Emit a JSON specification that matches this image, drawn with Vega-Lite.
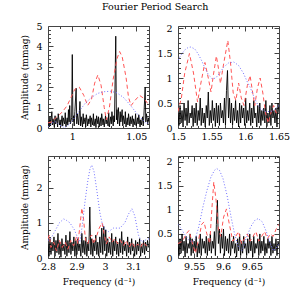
{
"$schema": "https://vega.github.io/schema/vega-lite/v6.json",
"padding": {"left": 20, "top": 2, "right": 5, "bottom": 5},
"title": {"text": "Fourier Period Search", "font": "DejaVu Serif", "fontSize": 9.5, "fontWeight": "normal", "anchor": "middle", "offset": 9, "color": "#000"},
"config": {
  "view": {"stroke": "#444", "strokeWidth": 1},
  "axis": {"grid": false, "domain": false, "labelFont": "DejaVu Serif", "labelFontSize": 9.5, "labelColor": "#000", "titleFont": "DejaVu Serif", "titleFontSize": 9, "titleFontWeight": "normal", "titleColor": "#000", "tickColor": "#444", "labelFlush": false, "labelOverlap": false, "labelBound": false, "format": "~g"}
},
"datasets": {
"tlk": [{"f":0.981,"a":0.35},{"f":0.982,"a":0.05},{"f":0.9825,"a":0.55},{"f":0.983,"a":0.1},{"f":0.984,"a":0.8},{"f":0.9845,"a":0.15},{"f":0.985,"a":0.45},{"f":0.986,"a":0.02},{"f":0.9865,"a":0.6},{"f":0.987,"a":0.2},{"f":0.988,"a":0.5},{"f":0.9885,"a":0.05},{"f":0.989,"a":0.7},{"f":0.99,"a":0.15},{"f":0.9905,"a":0.4},{"f":0.991,"a":0.08},{"f":0.992,"a":0.6},{"f":0.9925,"a":0.1},{"f":0.993,"a":0.5},{"f":0.994,"a":0.2},{"f":0.9945,"a":0.75},{"f":0.995,"a":0.05},{"f":0.996,"a":0.5},{"f":0.9965,"a":0.15},{"f":0.997,"a":0.9},{"f":0.9975,"a":0.3},{"f":0.998,"a":1.1},{"f":0.9985,"a":0.2},{"f":0.9995,"a":0.5},{"f":1.0,"a":3.6},{"f":1.0005,"a":0.3},{"f":1.001,"a":0.6},{"f":1.0015,"a":0.1},{"f":1.002,"a":0.8},{"f":1.003,"a":1.95},{"f":1.0035,"a":0.2},{"f":1.004,"a":0.7},{"f":1.005,"a":0.15},{"f":1.006,"a":1.3},{"f":1.0065,"a":0.1},{"f":1.007,"a":0.55},{"f":1.008,"a":0.05},{"f":1.0085,"a":0.7},{"f":1.009,"a":0.2},{"f":1.01,"a":0.5},{"f":1.0105,"a":0.05},{"f":1.011,"a":0.65},{"f":1.012,"a":0.1},{"f":1.0125,"a":0.45},{"f":1.013,"a":0.2},{"f":1.014,"a":0.6},{"f":1.0145,"a":0.05},{"f":1.015,"a":0.5},{"f":1.016,"a":0.15},{"f":1.0165,"a":0.7},{"f":1.017,"a":0.1},{"f":1.018,"a":0.45},{"f":1.0185,"a":0.02},{"f":1.019,"a":0.6},{"f":1.02,"a":0.2},{"f":1.0205,"a":0.55},{"f":1.021,"a":0.05},{"f":1.022,"a":0.5},{"f":1.0225,"a":0.1},{"f":1.023,"a":0.7},{"f":1.024,"a":0.15},{"f":1.0245,"a":0.45},{"f":1.025,"a":0.05},{"f":1.026,"a":0.6},{"f":1.0265,"a":0.2},{"f":1.027,"a":0.5},{"f":1.028,"a":0.1},{"f":1.0285,"a":0.75},{"f":1.029,"a":0.05},{"f":1.03,"a":0.55},{"f":1.0305,"a":0.2},{"f":1.031,"a":0.8},{"f":1.032,"a":0.1},{"f":1.0325,"a":0.6},{"f":1.033,"a":0.3},{"f":1.034,"a":4.5},{"f":1.0345,"a":0.4},{"f":1.035,"a":0.9},{"f":1.0355,"a":0.2},{"f":1.036,"a":1.0},{"f":1.037,"a":0.1},{"f":1.0375,"a":0.8},{"f":1.038,"a":0.3},{"f":1.039,"a":0.9},{"f":1.0395,"a":0.1},{"f":1.04,"a":0.6},{"f":1.041,"a":0.2},{"f":1.0415,"a":0.8},{"f":1.042,"a":0.05},{"f":1.043,"a":0.5},{"f":1.0435,"a":0.15},{"f":1.044,"a":0.7},{"f":1.045,"a":0.1},{"f":1.0455,"a":0.55},{"f":1.046,"a":0.2},{"f":1.047,"a":0.6},{"f":1.0475,"a":0.05},{"f":1.048,"a":0.45},{"f":1.049,"a":0.15},{"f":1.0495,"a":0.7},{"f":1.05,"a":0.1},{"f":1.051,"a":0.5},{"f":1.0515,"a":0.2},{"f":1.052,"a":0.65},{"f":1.053,"a":0.05},{"f":1.0535,"a":0.4},{"f":1.054,"a":0.15},{"f":1.055,"a":0.55},{"f":1.0555,"a":0.1},{"f":1.056,"a":0.6},{"f":1.057,"a":2.0},{"f":1.0575,"a":0.3},{"f":1.058,"a":0.7},{"f":1.059,"a":0.2},{"f":1.0595,"a":0.5},{"f":1.06,"a":0.3}],
"tlr": [{"f":0.981,"a":0.25},{"f":0.984,"a":0.3},{"f":0.987,"a":0.5},{"f":0.99,"a":0.65},{"f":0.993,"a":0.85},{"f":0.996,"a":1.1},{"f":0.999,"a":1.5},{"f":1.002,"a":1.9},{"f":1.0055,"a":2.0},{"f":1.009,"a":1.6},{"f":1.012,"a":1.1},{"f":1.015,"a":1.4},{"f":1.0175,"a":2.2},{"f":1.02,"a":2.6},{"f":1.0225,"a":2.1},{"f":1.025,"a":1.0},{"f":1.0266,"a":0.4},{"f":1.029,"a":1.0},{"f":1.032,"a":2.4},{"f":1.035,"a":3.4},{"f":1.037,"a":3.75},{"f":1.039,"a":3.5},{"f":1.042,"a":2.5},{"f":1.044,"a":1.5},{"f":1.046,"a":1.1},{"f":1.049,"a":1.35},{"f":1.0526,"a":1.6},{"f":1.056,"a":1.45},{"f":1.059,"a":1.2},{"f":1.06,"a":1.15}],
"tlb": [{"f":0.981,"a":0.05},{"f":0.984,"a":0.25},{"f":0.987,"a":0.3},{"f":0.99,"a":0.15},{"f":0.9937,"a":0.02},{"f":0.997,"a":0.15},{"f":1.0,"a":0.35},{"f":1.005,"a":0.8},{"f":1.01,"a":1.2},{"f":1.015,"a":1.5},{"f":1.02,"a":1.7},{"f":1.025,"a":1.78},{"f":1.03,"a":1.8},{"f":1.035,"a":1.72},{"f":1.04,"a":1.5},{"f":1.045,"a":1.15},{"f":1.05,"a":0.75},{"f":1.055,"a":0.4},{"f":1.058,"a":0.2},{"f":1.06,"a":0.3}],
"trk": [{"f":1.5,"a":0.3},{"f":1.5015,"a":0.05},{"f":1.503,"a":0.45},{"f":1.5045,"a":0.1},{"f":1.506,"a":0.35},{"f":1.5075,"a":0.02},{"f":1.509,"a":0.5},{"f":1.5105,"a":0.15},{"f":1.512,"a":0.4},{"f":1.5135,"a":0.05},{"f":1.515,"a":0.55},{"f":1.5165,"a":0.1},{"f":1.518,"a":0.3},{"f":1.5195,"a":0.2},{"f":1.521,"a":0.45},{"f":1.5225,"a":0.03},{"f":1.524,"a":0.4},{"f":1.5255,"a":0.1},{"f":1.527,"a":0.5},{"f":1.5285,"a":0.05},{"f":1.53,"a":0.35},{"f":1.5315,"a":0.15},{"f":1.533,"a":0.6},{"f":1.5345,"a":0.05},{"f":1.536,"a":0.4},{"f":1.5375,"a":0.1},{"f":1.539,"a":0.3},{"f":1.5405,"a":0.02},{"f":1.542,"a":0.45},{"f":1.5435,"a":0.2},{"f":1.545,"a":0.72},{"f":1.5465,"a":0.05},{"f":1.548,"a":0.35},{"f":1.5495,"a":0.1},{"f":1.551,"a":0.55},{"f":1.5525,"a":0.15},{"f":1.554,"a":0.4},{"f":1.5555,"a":0.03},{"f":1.557,"a":0.5},{"f":1.5585,"a":0.1},{"f":1.56,"a":0.45},{"f":1.5615,"a":0.05},{"f":1.563,"a":0.5},{"f":1.5645,"a":0.2},{"f":1.566,"a":0.35},{"f":1.5675,"a":0.1},{"f":1.569,"a":0.6},{"f":1.5705,"a":0.05},{"f":1.572,"a":0.75},{"f":1.5735,"a":1.15},{"f":1.575,"a":0.2},{"f":1.5765,"a":0.6},{"f":1.578,"a":0.1},{"f":1.5795,"a":0.5},{"f":1.581,"a":0.05},{"f":1.5825,"a":0.4},{"f":1.584,"a":0.15},{"f":1.5855,"a":0.55},{"f":1.587,"a":0.1},{"f":1.5885,"a":0.35},{"f":1.59,"a":0.02},{"f":1.5915,"a":0.5},{"f":1.593,"a":0.1},{"f":1.5945,"a":0.45},{"f":1.596,"a":0.2},{"f":1.5975,"a":0.4},{"f":1.599,"a":0.05},{"f":1.6005,"a":0.6},{"f":1.602,"a":0.1},{"f":1.6035,"a":0.35},{"f":1.605,"a":0.15},{"f":1.6065,"a":0.5},{"f":1.608,"a":0.05},{"f":1.6095,"a":0.4},{"f":1.611,"a":0.1},{"f":1.6125,"a":0.55},{"f":1.614,"a":0.2},{"f":1.6155,"a":0.3},{"f":1.617,"a":0.02},{"f":1.6185,"a":0.45},{"f":1.62,"a":0.1},{"f":1.6215,"a":0.5},{"f":1.623,"a":0.05},{"f":1.6245,"a":0.35},{"f":1.626,"a":0.15},{"f":1.6275,"a":0.4},{"f":1.629,"a":0.1},{"f":1.6305,"a":0.55},{"f":1.632,"a":0.03},{"f":1.6335,"a":0.3},{"f":1.635,"a":0.1},{"f":1.6365,"a":0.45},{"f":1.638,"a":0.05},{"f":1.6395,"a":0.5},{"f":1.641,"a":0.2},{"f":1.6425,"a":0.35},{"f":1.644,"a":0.1},{"f":1.6455,"a":0.4},{"f":1.647,"a":0.02},{"f":1.6485,"a":0.5},{"f":1.65,"a":0.3}],
"trr": [{"f":1.5,"a":0.33},{"f":1.505,"a":0.6},{"f":1.51,"a":1.1},{"f":1.517,"a":1.49},{"f":1.523,"a":1.1},{"f":1.529,"a":0.52},{"f":1.534,"a":0.9},{"f":1.54,"a":1.31},{"f":1.545,"a":1.0},{"f":1.549,"a":0.72},{"f":1.553,"a":1.1},{"f":1.557,"a":1.44},{"f":1.56,"a":1.2},{"f":1.563,"a":0.89},{"f":1.568,"a":1.3},{"f":1.574,"a":1.75},{"f":1.578,"a":1.3},{"f":1.582,"a":0.7},{"f":1.586,"a":0.55},{"f":1.59,"a":0.9},{"f":1.594,"a":0.6},{"f":1.598,"a":0.45},{"f":1.603,"a":0.85},{"f":1.607,"a":1.05},{"f":1.611,"a":0.7},{"f":1.614,"a":0.45},{"f":1.618,"a":0.8},{"f":1.622,"a":1.0},{"f":1.626,"a":0.7},{"f":1.63,"a":0.3},{"f":1.634,"a":0.1},{"f":1.638,"a":0.3},{"f":1.642,"a":0.45},{"f":1.646,"a":0.3},{"f":1.65,"a":0.35}],
"trb": [{"f":1.5,"a":1.36},{"f":1.505,"a":1.47},{"f":1.51,"a":1.56},{"f":1.515,"a":1.61},{"f":1.519,"a":1.62},{"f":1.525,"a":1.58},{"f":1.53,"a":1.48},{"f":1.535,"a":1.35},{"f":1.54,"a":1.2},{"f":1.545,"a":1.07},{"f":1.551,"a":0.98},{"f":1.556,"a":1.0},{"f":1.562,"a":1.1},{"f":1.568,"a":1.22},{"f":1.575,"a":1.3},{"f":1.583,"a":1.32},{"f":1.59,"a":1.25},{"f":1.597,"a":1.1},{"f":1.603,"a":0.92},{"f":1.607,"a":0.82},{"f":1.612,"a":0.65},{"f":1.617,"a":0.5},{"f":1.622,"a":0.39},{"f":1.63,"a":0.33},{"f":1.636,"a":0.33},{"f":1.641,"a":0.34},{"f":1.646,"a":0.4},{"f":1.65,"a":0.45}],
"blk": [{"f":2.8,"a":0.4},{"f":2.8035,"a":0.05},{"f":2.807,"a":0.55},{"f":2.8105,"a":0.1},{"f":2.814,"a":0.45},{"f":2.8175,"a":0.2},{"f":2.821,"a":0.6},{"f":2.8245,"a":0.05},{"f":2.828,"a":0.5},{"f":2.8315,"a":0.15},{"f":2.835,"a":0.7},{"f":2.8385,"a":0.1},{"f":2.842,"a":0.45},{"f":2.8455,"a":0.02},{"f":2.849,"a":0.55},{"f":2.8525,"a":0.2},{"f":2.856,"a":0.4},{"f":2.8595,"a":0.1},{"f":2.863,"a":0.65},{"f":2.8665,"a":0.05},{"f":2.87,"a":0.5},{"f":2.8735,"a":0.15},{"f":2.877,"a":0.75},{"f":2.8805,"a":0.1},{"f":2.884,"a":0.45},{"f":2.8875,"a":0.2},{"f":2.891,"a":0.6},{"f":2.8945,"a":0.05},{"f":2.898,"a":0.5},{"f":2.9015,"a":0.1},{"f":2.905,"a":0.55},{"f":2.9085,"a":0.2},{"f":2.912,"a":0.4},{"f":2.9155,"a":0.05},{"f":2.919,"a":0.7},{"f":2.9225,"a":0.15},{"f":2.926,"a":0.5},{"f":2.9295,"a":0.1},{"f":2.933,"a":0.6},{"f":2.9365,"a":0.05},{"f":2.94,"a":0.45},{"f":2.9435,"a":0.2},{"f":2.947,"a":1.45},{"f":2.9505,"a":0.1},{"f":2.954,"a":0.55},{"f":2.9575,"a":0.05},{"f":2.961,"a":0.5},{"f":2.9645,"a":0.2},{"f":2.968,"a":0.65},{"f":2.9715,"a":0.1},{"f":2.975,"a":0.45},{"f":2.9785,"a":0.05},{"f":2.982,"a":0.6},{"f":2.9855,"a":0.15},{"f":2.989,"a":0.85},{"f":2.9925,"a":0.1},{"f":2.996,"a":0.9},{"f":2.9995,"a":0.2},{"f":3.003,"a":0.8},{"f":3.0065,"a":0.05},{"f":3.01,"a":0.55},{"f":3.0135,"a":0.15},{"f":3.017,"a":0.45},{"f":3.0205,"a":0.1},{"f":3.024,"a":0.7},{"f":3.0275,"a":0.05},{"f":3.031,"a":0.5},{"f":3.0345,"a":0.2},{"f":3.038,"a":0.6},{"f":3.0415,"a":0.1},{"f":3.045,"a":0.45},{"f":3.0485,"a":0.05},{"f":3.052,"a":0.55},{"f":3.0555,"a":0.15},{"f":3.059,"a":0.75},{"f":3.0625,"a":0.1},{"f":3.066,"a":0.5},{"f":3.0695,"a":0.2},{"f":3.073,"a":0.4},{"f":3.0765,"a":0.05},{"f":3.08,"a":0.6},{"f":3.0835,"a":0.15},{"f":3.087,"a":0.45},{"f":3.0905,"a":0.1},{"f":3.094,"a":0.55},{"f":3.0975,"a":0.2},{"f":3.101,"a":0.4},{"f":3.1045,"a":0.05},{"f":3.108,"a":0.5},{"f":3.1115,"a":0.1},{"f":3.115,"a":0.45},{"f":3.1185,"a":0.2},{"f":3.122,"a":0.55},{"f":3.1255,"a":0.05},{"f":3.129,"a":0.4},{"f":3.1325,"a":0.15},{"f":3.136,"a":0.5},{"f":3.1395,"a":0.1},{"f":3.143,"a":0.45},{"f":3.1465,"a":0.2},{"f":3.15,"a":0.5},{"f":3.1535,"a":0.3}],
"blr": [{"f":2.8,"a":0.55},{"f":2.805,"a":0.65},{"f":2.81,"a":0.3},{"f":2.82,"a":0.45},{"f":2.83,"a":0.2},{"f":2.84,"a":0.5},{"f":2.85,"a":0.3},{"f":2.86,"a":0.45},{"f":2.87,"a":0.25},{"f":2.88,"a":0.5},{"f":2.89,"a":0.35},{"f":2.9,"a":0.6},{"f":2.905,"a":0.4},{"f":2.912,"a":0.9},{"f":2.919,"a":1.42},{"f":2.925,"a":1.1},{"f":2.932,"a":0.5},{"f":2.94,"a":0.4},{"f":2.947,"a":0.6},{"f":2.954,"a":0.65},{"f":2.96,"a":0.4},{"f":2.97,"a":0.6},{"f":2.98,"a":0.85},{"f":2.99,"a":1.0},{"f":2.997,"a":0.7},{"f":3.005,"a":0.4},{"f":3.015,"a":0.6},{"f":3.025,"a":0.45},{"f":3.035,"a":0.55},{"f":3.045,"a":0.4},{"f":3.055,"a":0.5},{"f":3.065,"a":0.35},{"f":3.075,"a":0.5},{"f":3.085,"a":0.3},{"f":3.095,"a":0.45},{"f":3.105,"a":0.3},{"f":3.115,"a":0.4},{"f":3.125,"a":0.3},{"f":3.135,"a":0.45},{"f":3.145,"a":0.35},{"f":3.155,"a":0.4}],
"blb": [{"f":2.8,"a":0.5},{"f":2.81,"a":0.55},{"f":2.82,"a":0.7},{"f":2.83,"a":0.85},{"f":2.84,"a":1.0},{"f":2.855,"a":1.11},{"f":2.865,"a":1.07},{"f":2.877,"a":1.0},{"f":2.893,"a":0.8},{"f":2.903,"a":0.6},{"f":2.912,"a":0.45},{"f":2.92,"a":0.9},{"f":2.93,"a":1.6},{"f":2.94,"a":2.2},{"f":2.948,"a":2.55},{"f":2.954,"a":2.64},{"f":2.962,"a":2.45},{"f":2.972,"a":1.9},{"f":2.982,"a":1.3},{"f":2.99,"a":1.0},{"f":3.0,"a":0.82},{"f":3.013,"a":0.75},{"f":3.03,"a":0.85},{"f":3.053,"a":0.85},{"f":3.07,"a":1.0},{"f":3.083,"a":1.25},{"f":3.095,"a":1.4},{"f":3.105,"a":1.2},{"f":3.118,"a":0.65},{"f":3.13,"a":0.45},{"f":3.14,"a":0.5},{"f":3.155,"a":0.55}],
"brk": [{"f":9.522,"a":0.3},{"f":9.5238,"a":0.05},{"f":9.5255,"a":0.4},{"f":9.5273,"a":0.1},{"f":9.529,"a":0.5},{"f":9.5308,"a":0.15},{"f":9.5325,"a":0.35},{"f":9.5343,"a":0.02},{"f":9.536,"a":0.45},{"f":9.5378,"a":0.1},{"f":9.5395,"a":0.3},{"f":9.5413,"a":0.2},{"f":9.543,"a":0.5},{"f":9.5448,"a":0.05},{"f":9.5465,"a":0.4},{"f":9.5483,"a":0.1},{"f":9.55,"a":0.35},{"f":9.5518,"a":0.15},{"f":9.5535,"a":0.45},{"f":9.5553,"a":0.02},{"f":9.557,"a":0.3},{"f":9.5588,"a":0.1},{"f":9.5605,"a":0.5},{"f":9.5623,"a":0.05},{"f":9.564,"a":0.4},{"f":9.5658,"a":0.2},{"f":9.5675,"a":0.35},{"f":9.5693,"a":0.1},{"f":9.571,"a":0.45},{"f":9.5728,"a":0.05},{"f":9.5745,"a":0.4},{"f":9.5763,"a":0.15},{"f":9.578,"a":0.5},{"f":9.5798,"a":0.1},{"f":9.5815,"a":0.35},{"f":9.5833,"a":0.2},{"f":9.585,"a":0.55},{"f":9.5868,"a":0.05},{"f":9.5885,"a":0.7},{"f":9.5903,"a":1.2},{"f":9.592,"a":0.3},{"f":9.5938,"a":0.6},{"f":9.5955,"a":0.1},{"f":9.5973,"a":0.5},{"f":9.599,"a":0.2},{"f":9.6008,"a":0.6},{"f":9.6025,"a":0.05},{"f":9.6043,"a":0.45},{"f":9.606,"a":0.15},{"f":9.6078,"a":0.4},{"f":9.6095,"a":0.1},{"f":9.6113,"a":0.5},{"f":9.613,"a":0.05},{"f":9.6148,"a":0.35},{"f":9.6165,"a":0.2},{"f":9.6183,"a":0.45},{"f":9.62,"a":0.1},{"f":9.6218,"a":0.3},{"f":9.6235,"a":0.02},{"f":9.6253,"a":0.4},{"f":9.627,"a":0.15},{"f":9.6288,"a":0.5},{"f":9.6305,"a":0.05},{"f":9.6323,"a":0.35},{"f":9.634,"a":0.1},{"f":9.6358,"a":0.45},{"f":9.6375,"a":0.2},{"f":9.6393,"a":0.3},{"f":9.641,"a":0.05},{"f":9.6428,"a":0.4},{"f":9.6445,"a":0.1},{"f":9.6463,"a":0.5},{"f":9.648,"a":0.15},{"f":9.6498,"a":0.35},{"f":9.6515,"a":0.02},{"f":9.6533,"a":0.45},{"f":9.655,"a":0.1},{"f":9.6568,"a":0.3},{"f":9.6585,"a":0.2},{"f":9.6603,"a":0.4},{"f":9.662,"a":0.05},{"f":9.6638,"a":0.5},{"f":9.6655,"a":0.1},{"f":9.6673,"a":0.35},{"f":9.669,"a":0.15},{"f":9.6708,"a":0.45},{"f":9.6725,"a":0.05},{"f":9.6743,"a":0.3},{"f":9.676,"a":0.1},{"f":9.6778,"a":0.4},{"f":9.6795,"a":0.2},{"f":9.6813,"a":0.35},{"f":9.683,"a":0.05},{"f":9.6848,"a":0.45},{"f":9.6865,"a":0.1},{"f":9.6883,"a":0.3},{"f":9.69,"a":0.15},{"f":9.6918,"a":0.4},{"f":9.6935,"a":0.05},{"f":9.6953,"a":0.35},{"f":9.697,"a":0.25}],
"brr": [{"f":9.522,"a":0.3},{"f":9.53,"a":0.35},{"f":9.536,"a":0.5},{"f":9.541,"a":0.57},{"f":9.546,"a":0.35},{"f":9.552,"a":0.1},{"f":9.558,"a":0.4},{"f":9.563,"a":0.7},{"f":9.567,"a":0.75},{"f":9.572,"a":0.5},{"f":9.577,"a":0.3},{"f":9.58,"a":0.9},{"f":9.584,"a":1.58},{"f":9.588,"a":1.2},{"f":9.592,"a":0.6},{"f":9.596,"a":0.45},{"f":9.601,"a":0.85},{"f":9.606,"a":1.02},{"f":9.611,"a":0.7},{"f":9.617,"a":0.35},{"f":9.622,"a":0.45},{"f":9.627,"a":0.55},{"f":9.632,"a":0.3},{"f":9.637,"a":0.4},{"f":9.642,"a":0.5},{"f":9.647,"a":0.35},{"f":9.652,"a":0.45},{"f":9.657,"a":0.55},{"f":9.662,"a":0.35},{"f":9.667,"a":0.45},{"f":9.672,"a":0.55},{"f":9.677,"a":0.4},{"f":9.682,"a":0.5},{"f":9.687,"a":0.45},{"f":9.692,"a":0.6},{"f":9.697,"a":0.7}],
"brb": [{"f":9.522,"a":0.7},{"f":9.527,"a":0.62},{"f":9.533,"a":0.5},{"f":9.54,"a":0.38},{"f":9.546,"a":0.33},{"f":9.552,"a":0.4},{"f":9.558,"a":0.65},{"f":9.565,"a":1.05},{"f":9.572,"a":1.4},{"f":9.579,"a":1.68},{"f":9.585,"a":1.82},{"f":9.589,"a":1.86},{"f":9.594,"a":1.82},{"f":9.6,"a":1.65},{"f":9.607,"a":1.3},{"f":9.614,"a":0.85},{"f":9.62,"a":0.5},{"f":9.627,"a":0.22},{"f":9.633,"a":0.15},{"f":9.64,"a":0.4},{"f":9.648,"a":0.65},{"f":9.655,"a":0.78},{"f":9.661,"a":0.82},{"f":9.668,"a":0.75},{"f":9.675,"a":0.55},{"f":9.682,"a":0.3},{"f":9.687,"a":0.15},{"f":9.692,"a":0.2},{"f":9.697,"a":0.3}]
},
"columns": 2,
"spacing": {"row": 28, "column": 29},
"bounds": "flush",
"concat": [
{
 "width": 101, "height": 102,
 "resolve": {"axis": {"x": "independent", "y": "independent"}},
 "layer": [
  {"data": {"name": "tlk"}, "mark": {"type": "line", "color": "#000", "strokeWidth": 0.9, "clip": true},
   "encoding": {
    "x": {"field": "f", "type": "quantitative", "scale": {"domain": [0.981, 1.06], "nice": false, "zero": false},
     "axis": {"orient": "bottom", "title": null, "values": [0.99,1,1.01,1.02,1.03,1.04,1.05,1.06], "tickSize": {"condition": {"test": "abs(datum.value*20-round(datum.value*20))<1e-6", "value": -5}, "value": -2.5}, "labelExpr": "abs(datum.value*20-round(datum.value*20))<1e-6 ? datum.label : ''", "labelPadding": 8}},
    "y": {"field": "a", "type": "quantitative", "scale": {"domain": [0, 5], "nice": false},
     "axis": {"orient": "left", "title": "Amplitude (mmag)", "values": [0,0.2,0.4,0.6,0.8,1,1.2,1.4,1.6,1.8,2,2.2,2.4,2.6,2.8,3,3.2,3.4,3.6,3.8,4,4.2,4.4,4.6,4.8,5], "tickSize": {"condition": {"test": "abs(datum.value-round(datum.value))<1e-6", "value": -5}, "value": -2.5}, "labelExpr": "abs(datum.value-round(datum.value))<1e-6 ? datum.label : ''", "labelPadding": 11, "titlePadding": 6}}
   }},
  {"data": {"name": "tlr"}, "mark": {"type": "line", "color": "#ff5555", "strokeWidth": 1, "strokeDash": [4, 3], "clip": true},
   "encoding": {
    "x": {"field": "f", "type": "quantitative", "scale": {"domain": [0.981, 1.06], "nice": false, "zero": false},
     "axis": {"orient": "top", "title": null, "labels": false, "values": [0.99,1,1.01,1.02,1.03,1.04,1.05,1.06], "tickSize": {"condition": {"test": "abs(datum.value*20-round(datum.value*20))<1e-6", "value": -5}, "value": -2.5}}},
    "y": {"field": "a", "type": "quantitative", "scale": {"domain": [0, 5], "nice": false},
     "axis": {"orient": "right", "title": null, "labels": false, "values": [0,0.2,0.4,0.6,0.8,1,1.2,1.4,1.6,1.8,2,2.2,2.4,2.6,2.8,3,3.2,3.4,3.6,3.8,4,4.2,4.4,4.6,4.8,5], "tickSize": {"condition": {"test": "abs(datum.value-round(datum.value))<1e-6", "value": -5}, "value": -2.5}}}
   }},
  {"data": {"name": "tlb"}, "mark": {"type": "line", "color": "#7070ff", "strokeWidth": 1, "strokeDash": [1, 2], "clip": true},
   "encoding": {
    "x": {"field": "f", "type": "quantitative", "scale": {"domain": [0.981, 1.06], "nice": false, "zero": false}, "axis": null},
    "y": {"field": "a", "type": "quantitative", "scale": {"domain": [0, 5], "nice": false}, "axis": null}
   }}
 ]
},
{
 "width": 101, "height": 102,
 "resolve": {"axis": {"x": "independent", "y": "independent"}},
 "layer": [
  {"data": {"name": "trk"}, "mark": {"type": "line", "color": "#000", "strokeWidth": 0.9, "clip": true},
   "encoding": {
    "x": {"field": "f", "type": "quantitative", "scale": {"domain": [1.5, 1.65], "nice": false, "zero": false},
     "axis": {"orient": "bottom", "title": null, "values": [1.5,1.51,1.52,1.53,1.54,1.55,1.56,1.57,1.58,1.59,1.6,1.61,1.62,1.63,1.64,1.65], "tickSize": {"condition": {"test": "abs(datum.value*20-round(datum.value*20))<1e-6", "value": -5}, "value": -2.5}, "labelExpr": "abs(datum.value*20-round(datum.value*20))<1e-6 ? datum.label : ''", "labelPadding": 8}},
    "y": {"field": "a", "type": "quantitative", "scale": {"domain": [0, 2.04], "nice": false},
     "axis": {"orient": "left", "title": null, "values": [0,0.1,0.2,0.3,0.4,0.5,0.6,0.7,0.8,0.9,1,1.1,1.2,1.3,1.4,1.5,1.6,1.7,1.8,1.9,2], "tickSize": {"condition": {"test": "abs(datum.value*2-round(datum.value*2))<1e-6", "value": -5}, "value": -2.5}, "labelExpr": "abs(datum.value*2-round(datum.value*2))<1e-6 ? datum.label : ''", "labelPadding": 11}}
   }},
  {"data": {"name": "trr"}, "mark": {"type": "line", "color": "#ff5555", "strokeWidth": 1, "strokeDash": [4, 3], "clip": true},
   "encoding": {
    "x": {"field": "f", "type": "quantitative", "scale": {"domain": [1.5, 1.65], "nice": false, "zero": false},
     "axis": {"orient": "top", "title": null, "labels": false, "values": [1.5,1.51,1.52,1.53,1.54,1.55,1.56,1.57,1.58,1.59,1.6,1.61,1.62,1.63,1.64,1.65], "tickSize": {"condition": {"test": "abs(datum.value*20-round(datum.value*20))<1e-6", "value": -5}, "value": -2.5}}},
    "y": {"field": "a", "type": "quantitative", "scale": {"domain": [0, 2.04], "nice": false},
     "axis": {"orient": "right", "title": null, "labels": false, "values": [0,0.1,0.2,0.3,0.4,0.5,0.6,0.7,0.8,0.9,1,1.1,1.2,1.3,1.4,1.5,1.6,1.7,1.8,1.9,2], "tickSize": {"condition": {"test": "abs(datum.value*2-round(datum.value*2))<1e-6", "value": -5}, "value": -2.5}}}
   }},
  {"data": {"name": "trb"}, "mark": {"type": "line", "color": "#7070ff", "strokeWidth": 1, "strokeDash": [1, 2], "clip": true},
   "encoding": {
    "x": {"field": "f", "type": "quantitative", "scale": {"domain": [1.5, 1.65], "nice": false, "zero": false}, "axis": null},
    "y": {"field": "a", "type": "quantitative", "scale": {"domain": [0, 2.04], "nice": false}, "axis": null}
   }}
 ]
},
{
 "width": 101, "height": 102,
 "resolve": {"axis": {"x": "independent", "y": "independent"}},
 "layer": [
  {"data": {"name": "blk"}, "mark": {"type": "line", "color": "#000", "strokeWidth": 0.9, "clip": true},
   "encoding": {
    "x": {"field": "f", "type": "quantitative", "scale": {"domain": [2.8, 3.155], "nice": false, "zero": false},
     "axis": {"orient": "bottom", "title": "Frequency (d⁻¹)", "values": [2.8,2.82,2.84,2.86,2.88,2.9,2.92,2.94,2.96,2.98,3,3.02,3.04,3.06,3.08,3.1,3.12,3.14], "tickSize": {"condition": {"test": "abs(datum.value*10-round(datum.value*10))<1e-6", "value": -5}, "value": -2.5}, "labelExpr": "abs(datum.value*10-round(datum.value*10))<1e-6 ? datum.label : ''", "labelPadding": 8, "titlePadding": 4}},
    "y": {"field": "a", "type": "quantitative", "scale": {"domain": [0, 2.9], "nice": false},
     "axis": {"orient": "left", "title": "Amplitude (mmag)", "values": [0,0.2,0.4,0.6,0.8,1,1.2,1.4,1.6,1.8,2,2.2,2.4,2.6,2.8], "tickSize": {"condition": {"test": "abs(datum.value-round(datum.value))<1e-6", "value": -5}, "value": -2.5}, "labelExpr": "abs(datum.value-round(datum.value))<1e-6 ? datum.label : ''", "labelPadding": 11, "titlePadding": 6}}
   }},
  {"data": {"name": "blr"}, "mark": {"type": "line", "color": "#ff5555", "strokeWidth": 1, "strokeDash": [4, 3], "clip": true},
   "encoding": {
    "x": {"field": "f", "type": "quantitative", "scale": {"domain": [2.8, 3.155], "nice": false, "zero": false},
     "axis": {"orient": "top", "title": null, "labels": false, "values": [2.8,2.82,2.84,2.86,2.88,2.9,2.92,2.94,2.96,2.98,3,3.02,3.04,3.06,3.08,3.1,3.12,3.14], "tickSize": {"condition": {"test": "abs(datum.value*10-round(datum.value*10))<1e-6", "value": -5}, "value": -2.5}}},
    "y": {"field": "a", "type": "quantitative", "scale": {"domain": [0, 2.9], "nice": false},
     "axis": {"orient": "right", "title": null, "labels": false, "values": [0,0.2,0.4,0.6,0.8,1,1.2,1.4,1.6,1.8,2,2.2,2.4,2.6,2.8], "tickSize": {"condition": {"test": "abs(datum.value-round(datum.value))<1e-6", "value": -5}, "value": -2.5}}}
   }},
  {"data": {"name": "blb"}, "mark": {"type": "line", "color": "#7070ff", "strokeWidth": 1, "strokeDash": [1, 2], "clip": true},
   "encoding": {
    "x": {"field": "f", "type": "quantitative", "scale": {"domain": [2.8, 3.155], "nice": false, "zero": false}, "axis": null},
    "y": {"field": "a", "type": "quantitative", "scale": {"domain": [0, 2.9], "nice": false}, "axis": null}
   }}
 ]
},
{
 "width": 101, "height": 102,
 "resolve": {"axis": {"x": "independent", "y": "independent"}},
 "layer": [
  {"data": {"name": "brk"}, "mark": {"type": "line", "color": "#000", "strokeWidth": 0.9, "clip": true},
   "encoding": {
    "x": {"field": "f", "type": "quantitative", "scale": {"domain": [9.522, 9.697], "nice": false, "zero": false},
     "axis": {"orient": "bottom", "title": "Frequency (d⁻¹)", "values": [9.53,9.54,9.55,9.56,9.57,9.58,9.59,9.6,9.61,9.62,9.63,9.64,9.65,9.66,9.67,9.68,9.69], "tickSize": {"condition": {"test": "abs(datum.value*20-round(datum.value*20))<1e-6", "value": -5}, "value": -2.5}, "labelExpr": "abs(datum.value*20-round(datum.value*20))<1e-6 ? datum.label : ''", "labelPadding": 8, "titlePadding": 4}},
    "y": {"field": "a", "type": "quantitative", "scale": {"domain": [0, 2.12], "nice": false},
     "axis": {"orient": "left", "title": null, "values": [0,0.1,0.2,0.3,0.4,0.5,0.6,0.7,0.8,0.9,1,1.1,1.2,1.3,1.4,1.5,1.6,1.7,1.8,1.9,2,2.1], "tickSize": {"condition": {"test": "abs(datum.value*2-round(datum.value*2))<1e-6", "value": -5}, "value": -2.5}, "labelExpr": "abs(datum.value*2-round(datum.value*2))<1e-6 ? datum.label : ''", "labelPadding": 11}}
   }},
  {"data": {"name": "brr"}, "mark": {"type": "line", "color": "#ff5555", "strokeWidth": 1, "strokeDash": [4, 3], "clip": true},
   "encoding": {
    "x": {"field": "f", "type": "quantitative", "scale": {"domain": [9.522, 9.697], "nice": false, "zero": false},
     "axis": {"orient": "top", "title": null, "labels": false, "values": [9.53,9.54,9.55,9.56,9.57,9.58,9.59,9.6,9.61,9.62,9.63,9.64,9.65,9.66,9.67,9.68,9.69], "tickSize": {"condition": {"test": "abs(datum.value*20-round(datum.value*20))<1e-6", "value": -5}, "value": -2.5}}},
    "y": {"field": "a", "type": "quantitative", "scale": {"domain": [0, 2.12], "nice": false},
     "axis": {"orient": "right", "title": null, "labels": false, "values": [0,0.1,0.2,0.3,0.4,0.5,0.6,0.7,0.8,0.9,1,1.1,1.2,1.3,1.4,1.5,1.6,1.7,1.8,1.9,2,2.1], "tickSize": {"condition": {"test": "abs(datum.value*2-round(datum.value*2))<1e-6", "value": -5}, "value": -2.5}}}
   }},
  {"data": {"name": "brb"}, "mark": {"type": "line", "color": "#7070ff", "strokeWidth": 1, "strokeDash": [1, 2], "clip": true},
   "encoding": {
    "x": {"field": "f", "type": "quantitative", "scale": {"domain": [9.522, 9.697], "nice": false, "zero": false}, "axis": null},
    "y": {"field": "a", "type": "quantitative", "scale": {"domain": [0, 2.12], "nice": false}, "axis": null}
   }}
 ]
}
]
}
